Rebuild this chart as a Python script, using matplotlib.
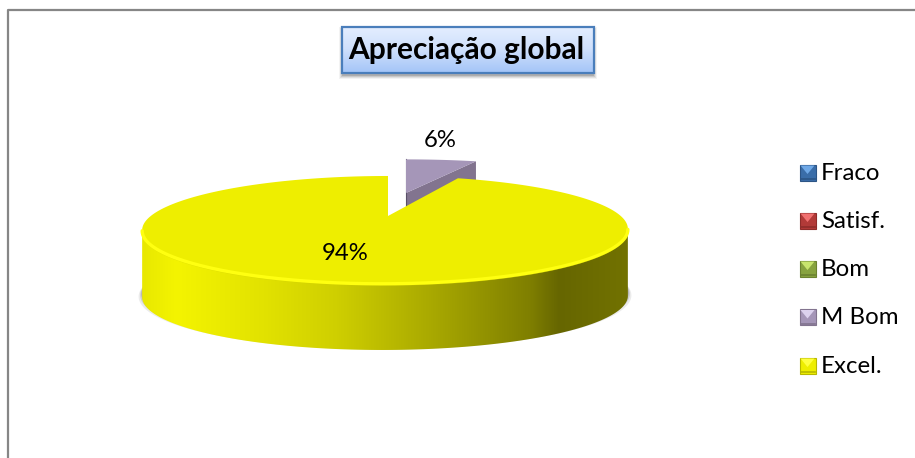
import numpy as np
import matplotlib
matplotlib.use("Agg")
import matplotlib.pyplot as plt
from matplotlib.patches import Polygon, Rectangle
from matplotlib.colors import LinearSegmentedColormap

plt.rcParams['font.family'] = ['Lato', 'DejaVu Sans']

categories = ["Fraco", "Satisf.", "Bom", "M Bom", "Excel."]
values = [0, 0, 0, 6, 94]
title = "Apreciação global"
colors = ["#3A6DA8", "#B23A38", "#87A33F", "#A596B8", "#EEEE00"]
lights = ["#6FA8E6", "#F07070", "#C8E56E", "#DCD2EE", "#FFFF40"]
darks = ["#2C5586", "#8E2C2A", "#6B8230", "#82748F", "#B8B800"]

W, H = 915, 458
fig = plt.figure(figsize=(W / 100, H / 100), dpi=100, facecolor="white")
ax = fig.add_axes([0, 0, 1, 1])
ax.set_xlim(0, W)
ax.set_ylim(H, 0)
ax.axis("off")

# frame: the right side runs off the picture
ax.plot([8, 8, W], [H, 9.5, 9.5], color="#868686", lw=1.6, zorder=1)

# perspective projection of the pie disc
K, A, B, S = 0.252, 235.0, 50.1, 2.8
DEPTH = 67


def proj(theta, apex, yscale=1.0):
    u, v = np.sin(theta), np.cos(theta)
    d = 1 + K * v
    return np.column_stack([apex[0] + A * u / d + S * (v / d - 0.8),
                            apex[1] - yscale * B * v / d])


total = sum(values)
edges = np.cumsum([0] + values) / total * 2 * np.pi
start_p, end_p = edges[3], edges[4]
start_e, end_e = edges[4], edges[5]
apex_e = (388, 216)
apex_p = (406, 193)

# shadow under the pie
th = np.linspace(0, 2 * np.pi, 400)
shadow = proj(th, (apex_e[0], apex_e[1] + DEPTH - 4))
for grow, a in [(3.5, 0.12), (2, 0.2), (0.8, 0.3)]:
    s = shadow.copy()
    s[:, 1] += grow
    s[:, 0] = 385 + (s[:, 0] - 385) * (1 + grow / 240)
    ax.add_patch(Polygon(s, closed=True, fc="#606060", ec="none", alpha=a, zorder=2))

# purple slice, exploded
arc_p = proj(np.linspace(start_p, end_p, 30), apex_p, yscale=0.84)
wall = np.vstack([[apex_p], arc_p[-1:], arc_p[-1:] + [0, DEPTH], [[apex_p[0], apex_p[1] + DEPTH]]])
ax.add_patch(Polygon(wall, closed=True, fc="#82748F", ec="none", zorder=3))
ax.plot([apex_p[0], apex_p[0]], [arc_p[0, 1], apex_p[1] + 14], color="#5A5068", lw=0.8, zorder=3)
ax.add_patch(Polygon(np.vstack([[apex_p], arc_p]), closed=True, fc=colors[3], ec="none", zorder=4))

# yellow side wall with horizontal gradient
th_e = np.linspace(start_e, end_e, 500)
rim = proj(th_e, apex_e)
i_r, i_l = int(np.argmax(rim[:, 0])), int(np.argmin(rim[:, 0]))
front = rim[i_r:i_l + 1]
side = np.vstack([front, front[::-1] + [0, DEPTH]])
cmap = LinearSegmentedColormap.from_list("side", [
    (0.0, "#E8E800"), (0.07, "#F4F400"), (0.25, "#E2E200"), (0.40, "#CFCF00"),
    (0.60, "#A8A800"), (0.80, "#7F7F00"), (0.86, "#666600"), (1.0, "#727200")])
grad = np.linspace(0, 1, 256).reshape(1, -1)
x0, x1 = front[:, 0].max(), front[:, 0].min()
im = ax.imshow(grad, cmap=cmap, extent=[x1, x0, H, 0], aspect="auto", zorder=5)
im.set_clip_path(Polygon(side, closed=True, transform=ax.transData))
ax.set_xlim(0, W)
ax.set_ylim(H, 0)

# yellow top face
top = np.vstack([[apex_e], rim])
ax.add_patch(Polygon(top, closed=True, fc=colors[4], ec="none", zorder=6))
# bevel on the rim
ax.plot(front[:, 0], front[:, 1] + 0.8, color="#FFFF10", lw=2.4, zorder=7, solid_capstyle="round")
ax.plot(front[:, 0], front[:, 1] + 2.4, color="#D0D000", lw=0.6, alpha=0.5, zorder=5.5)

# data labels
ax.text(440, 140.5, f"{values[3]}%", ha="center", va="center", fontsize=17.2, color="black", zorder=8)
ax.text(345, 253.5, f"{values[4]}%", ha="center", va="center", fontsize=17.2, color="black", zorder=8)

# title box
bx, by, bw, bh = 341.5, 26.5, 252, 46
for g, a in [(4, 0.06), (3, 0.1), (2, 0.14), (1, 0.2)]:
    ax.add_patch(Rectangle((bx - g + 1, by + 3 - g + 1), bw + 2 * g - 2, bh + 2 * g - 2,
                           fc="#404040", ec="none", alpha=a, zorder=3))
tcmap = LinearSegmentedColormap.from_list("tb", ["#E4EEFF", "#CFE0FC", "#A6C6F8"])
tim = ax.imshow(np.linspace(0, 1, 64).reshape(-1, 1), cmap=tcmap,
                extent=[bx, bx + bw, by + bh, by], aspect="auto", zorder=4)
ax.set_xlim(0, W)
ax.set_ylim(H, 0)
ax.add_patch(Rectangle((bx, by), bw, bh, fc="none", ec="#4A7EBB", lw=1.6, zorder=5))
ax.text(bx + bw / 2 - 1, by + bh / 2 + 0.5, title, ha="center", va="center", fontsize=21.5,
        fontweight="bold", color="black", zorder=6)

# legend
ly = [172.5, 220.5, 268.5, 317, 365.5]
lx, ls = 799.5, 16
for y, c, li, dk, name in zip(ly, colors, lights, darks, categories):
    ax.add_patch(Rectangle((lx, y - ls / 2), ls, ls, fc=c, ec=dk, lw=0.8, zorder=4))
    ax.add_patch(Polygon([(lx + 1, y - ls / 2 + 1), (lx + ls - 1, y - ls / 2 + 1), (lx + ls / 2, y + 1.5)],
                         closed=True, fc=li, ec="none", zorder=5))
    ax.plot([lx + 1, lx + ls - 1], [y + ls / 2 - 1.2] * 2, color=dk, lw=1.2, zorder=5)
    ax.text(821, y + 1, name, ha="left", va="center", fontsize=17.3, color="black", zorder=6)

fig.savefig("out.png", dpi=100, facecolor="white")
